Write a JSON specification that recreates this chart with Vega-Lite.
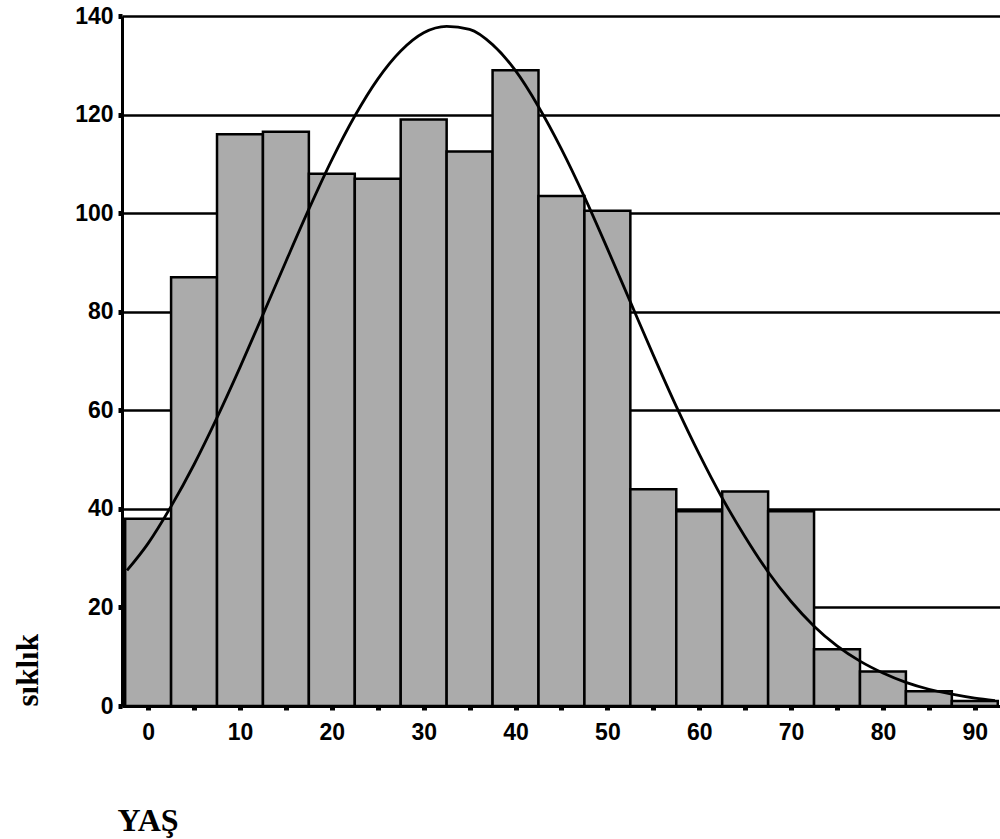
{
  "$schema": "https://vega.github.io/schema/vega-lite/v6.json",
  "width": 878,
  "height": 690,
  "padding": {"left": 122, "top": 16, "right": 0, "bottom": 133},
  "autosize": {"type": "none"},
  "background": "white",
  "config": {
    "view": {"stroke": null},
    "axis": {"labelFont": "Liberation Sans", "labelFontWeight": "bold", "labelFontSize": 23, "labelColor": "#000", "domainColor": "#000", "tickColor": "#000", "gridColor": "#000"}
  },
  "datasets": {
    "bars": [
      {"from": -2.5, "to": 2.5, "count": 38},
      {"from": 2.5, "to": 7.5, "count": 87},
      {"from": 7.5, "to": 12.5, "count": 116},
      {"from": 12.5, "to": 17.5, "count": 116.5},
      {"from": 17.5, "to": 22.5, "count": 108},
      {"from": 22.5, "to": 27.5, "count": 107},
      {"from": 27.5, "to": 32.5, "count": 119},
      {"from": 32.5, "to": 37.5, "count": 112.5},
      {"from": 37.5, "to": 42.5, "count": 129},
      {"from": 42.5, "to": 47.5, "count": 103.5},
      {"from": 47.5, "to": 52.5, "count": 100.5},
      {"from": 52.5, "to": 57.5, "count": 44},
      {"from": 57.5, "to": 62.5, "count": 39.5},
      {"from": 62.5, "to": 67.5, "count": 43.5},
      {"from": 67.5, "to": 72.5, "count": 39.5},
      {"from": 72.5, "to": 77.5, "count": 11.5},
      {"from": 77.5, "to": 82.5, "count": 7},
      {"from": 82.5, "to": 87.5, "count": 3},
      {"from": 87.5, "to": 92.5, "count": 1}
    ],
    "curve": [
      {"age": -2.3, "freq": 27.5},
      {"age": 0, "freq": 33},
      {"age": 2.5, "freq": 40.5},
      {"age": 5, "freq": 49},
      {"age": 7.5, "freq": 58.5},
      {"age": 10, "freq": 68.7},
      {"age": 12.5, "freq": 79.4},
      {"age": 15, "freq": 90.2},
      {"age": 17.5, "freq": 100.8},
      {"age": 20, "freq": 110.8},
      {"age": 22.5, "freq": 119.7},
      {"age": 25, "freq": 127.2},
      {"age": 27.5, "freq": 132.9},
      {"age": 30, "freq": 136.6},
      {"age": 32.5, "freq": 137.9},
      {"age": 35, "freq": 137.3},
      {"age": 37.5, "freq": 134.2},
      {"age": 40, "freq": 128.9},
      {"age": 42.5, "freq": 121.6},
      {"age": 45, "freq": 113},
      {"age": 47.5, "freq": 103.3},
      {"age": 50, "freq": 92.8},
      {"age": 52.5, "freq": 82},
      {"age": 55, "freq": 71.2},
      {"age": 57.5, "freq": 60.8},
      {"age": 60, "freq": 51.1},
      {"age": 62.5, "freq": 42.2},
      {"age": 65, "freq": 34.3},
      {"age": 67.5, "freq": 27.2},
      {"age": 70, "freq": 21.2},
      {"age": 72.5, "freq": 16.2},
      {"age": 75, "freq": 12.2},
      {"age": 77.5, "freq": 9.1},
      {"age": 80, "freq": 6.7},
      {"age": 82.5, "freq": 4.8},
      {"age": 85, "freq": 3.4},
      {"age": 87.5, "freq": 2.4},
      {"age": 90, "freq": 1.6},
      {"age": 92.2, "freq": 1.1}
    ]
  },
  "layer": [
    {
      "data": {"name": "bars"},
      "mark": {"type": "bar", "orient": "vertical", "fill": "#ababab", "stroke": "#000", "strokeWidth": 2.5, "clip": true},
      "encoding": {
        "x": {
          "field": "from", "type": "quantitative",
          "scale": {"domain": [-2.3, 92.2], "nice": false, "zero": false},
          "axis": {
            "values": [0, 5, 10, 15, 20, 25, 30, 35, 40, 45, 50, 55, 60, 65, 70, 75, 80, 85, 90],
            "labelExpr": "datum.value % 10 === 0 ? datum.label : ''",
            "grid": false, "domainWidth": 3, "tickSize": 4, "tickWidth": 5, "labelPadding": 11,
            "labelFlush": false, "labelOverlap": false,
            "title": "YAŞ", "titleFont": "Liberation Serif", "titleFontSize": 32, "titleFontWeight": "bold",
            "titleAnchor": "start", "titleAlign": "left", "titleX": -5, "titleY": 114, "titleBaseline": "middle"
          }
        },
        "x2": {"field": "to"},
        "y": {
          "field": "count", "type": "quantitative",
          "scale": {"domain": [0, 140], "nice": false},
          "axis": {
            "values": [0, 20, 40, 60, 80, 100, 120, 140],
            "grid": true, "gridWidth": 2.5, "domainWidth": 3, "tickSize": 4, "tickWidth": 5, "labelPadding": 5,
            "labelFlush": false,
            "title": "sıklık", "titleFont": "Liberation Serif", "titleFontSize": 31, "titleFontWeight": "bold",
            "titleAngle": -90, "titleAlign": "left", "titleBaseline": "middle", "titleX": -94, "titleY": 690
          }
        },
        "y2": {"datum": 0}
      }
    },
    {
      "data": {"name": "curve"},
      "mark": {"type": "line", "color": "#000", "strokeWidth": 2.8, "interpolate": "monotone", "clip": true},
      "encoding": {
        "x": {"field": "age", "type": "quantitative"},
        "y": {"field": "freq", "type": "quantitative"}
      }
    }
  ]
}
